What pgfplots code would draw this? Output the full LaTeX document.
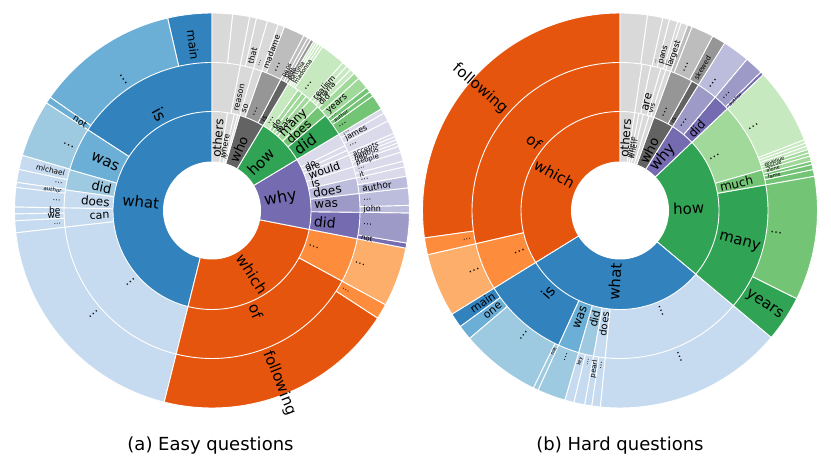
\documentclass[border=0pt]{standalone}
\usepackage{fontspec}
\setmainfont{DejaVu Sans}
\usepackage{pgfplots}
\pgfplotsset{compat=1.18}
\definecolor{b1}{HTML}{3182BD}\definecolor{b2}{HTML}{6BAED6}\definecolor{b3}{HTML}{9ECAE1}\definecolor{b4}{HTML}{C6DBEF}
\definecolor{o1}{HTML}{E6550D}\definecolor{o2}{HTML}{FD8D3C}\definecolor{o3}{HTML}{FDAE6B}\definecolor{o4}{HTML}{FDD0A2}
\definecolor{g1}{HTML}{31A354}\definecolor{g2}{HTML}{74C476}\definecolor{g3}{HTML}{A1D99B}\definecolor{g4}{HTML}{C7E9C0}
\definecolor{p1}{HTML}{756BB1}\definecolor{p2}{HTML}{9E9AC8}\definecolor{p3}{HTML}{BCBDDC}\definecolor{p4}{HTML}{DADAEB}
\definecolor{k1}{HTML}{636363}\definecolor{k2}{HTML}{969696}\definecolor{k3}{HTML}{BDBDBD}\definecolor{k4}{HTML}{D9D9D9}
% wedge: start angle, end angle, outer radius, colour (drawn as a slice, rings painted outer to inner)
\newcommand{\Wg}[4]{%
  \pgfmathtruncatemacro\ns{max(3,abs(#2-#1)/1.5+2)}%
  \addplot[fill=#4, draw=white, line width=0.9bp, domain=#1:#2, samples=\ns, variable=\t]
    ({#3*cos(\t)},{#3*sin(\t)}) -- (0,0) -- cycle;}
% labels: start angle, end angle, inner radius, size, text
\newcommand{\Ra}[5]{\path (0,0) ++({(#1+#2)/2}:#3bp) node[anchor=west, rotate={(#1+#2)/2}, inner sep=0pt, font=\fontsize{#4bp}{#4bp}\selectfont] {#5};}
\newcommand{\La}[5]{\path (0,0) ++({(#1+#2)/2}:#3bp) node[anchor=east, rotate={(#1+#2)/2-180}, inner sep=0pt, font=\fontsize{#4bp}{#4bp}\selectfont] {#5};}
\newcommand{\Hole}{\addplot[fill=white, draw=none, domain=0:360, samples=120, variable=\t] ({49*cos(\t)},{49*sin(\t)}) -- cycle;}
\pgfplotsset{sb/.style={anchor=south west, width=415.5bp, height=465bp, scale only axis, ymin=-254.5, ymax=210.5, hide axis, clip=false}}
\begin{document}
\begin{tikzpicture}
%================ (a) Easy questions ================
\begin{axis}[sb, at={(0,0)}, xmin=-212, xmax=203.5]
\path (-212,-254.5) rectangle (203.5,210.5);
% outer ring
\Wg{90}{103}{197.5}{b1}\Wg{103}{145}{197.5}{b2}\Wg{145}{147}{197.5}{b2}\Wg{147}{163.8}{197.5}{b3}
\Wg{163.8}{168}{197.5}{b4}\Wg{168}{171.8}{197.5}{b4}\Wg{171.8}{173.3}{197.5}{b4}\Wg{173.3}{179}{197.5}{b4}
\Wg{179}{181}{197.5}{b4}\Wg{181}{183}{197.5}{b4}\Wg{183}{186.5}{197.5}{b4}\Wg{186.5}{256}{197.5}{b4}
\Wg{-104}{-33}{197.5}{o1}\Wg{-33}{-28.5}{197.5}{o2}\Wg{-28.5}{-11}{197.5}{o3}
\Wg{-11}{-9.5}{197.5}{p1}\Wg{-9.5}{-0.7}{197.5}{p2}\Wg{-0.7}{1.5}{197.5}{p3}\Wg{1.5}{6.6}{197.5}{p3}
\Wg{6.6}{10}{197.5}{p3}\Wg{10}{12.8}{197.5}{p4}\Wg{12.8}{14.5}{197.5}{p4}\Wg{14.5}{17.2}{197.5}{p4}
\Wg{17.2}{19}{197.5}{p4}\Wg{19}{20}{197.5}{p4}\Wg{20}{21}{197.5}{p4}\Wg{21}{22}{197.5}{p4}
\Wg{22}{23}{197.5}{p4}\Wg{23}{27}{197.5}{p4}\Wg{27}{29.5}{197.5}{p4}\Wg{29.5}{31}{197.5}{p4}
\Wg{31}{35.5}{197.5}{g2}\Wg{35.5}{37}{197.5}{g2}\Wg{37}{38.5}{197.5}{g2}\Wg{38.5}{42}{197.5}{g3}
\Wg{42}{44}{197.5}{g3}\Wg{44}{45.5}{197.5}{g4}\Wg{45.5}{47}{197.5}{g4}\Wg{47}{48.5}{197.5}{g4}
\Wg{48.5}{56}{197.5}{g4}\Wg{56}{56.8}{197.5}{g4}\Wg{56.8}{57.6}{197.5}{g4}\Wg{57.6}{58.3}{197.5}{g4}\Wg{58.3}{59}{197.5}{g4}
\Wg{59}{60}{197.5}{k2}\Wg{60}{61}{197.5}{k3}\Wg{61}{62.3}{197.5}{k3}\Wg{62.3}{68.5}{197.5}{k3}
\Wg{68.5}{70.4}{197.5}{k4}\Wg{70.4}{73.7}{197.5}{k4}\Wg{73.7}{77}{197.5}{k4}\Wg{77}{79}{197.5}{k4}
\Wg{79}{84}{197.5}{k4}\Wg{84}{90}{197.5}{k4}
% middle ring
\Wg{90}{147}{148}{b1}\Wg{147}{164}{148}{b2}\Wg{164}{172}{148}{b3}\Wg{172}{179}{148}{b4}
\Wg{179}{186.5}{148}{b4}\Wg{186.5}{256}{148}{b4}
\Wg{-104}{-28.5}{148}{o1}\Wg{-28.5}{-11}{148}{o2}
\Wg{-11}{-0.7}{148}{p1}\Wg{-0.7}{6.6}{148}{p2}\Wg{6.6}{12.8}{148}{p3}\Wg{12.8}{17.2}{148}{p4}
\Wg{17.2}{22}{148}{p4}\Wg{22}{24}{148}{p4}\Wg{24}{26}{148}{p4}\Wg{26}{31}{148}{p4}
\Wg{31}{40}{148}{g1}\Wg{40}{44.5}{148}{g2}\Wg{44.5}{48.5}{148}{g3}\Wg{48.5}{50.5}{148}{g3}
\Wg{50.5}{52.5}{148}{g3}\Wg{52.5}{54.5}{148}{g3}\Wg{54.5}{59}{148}{g4}
\Wg{59}{62.3}{148}{k1}\Wg{62.3}{70.4}{148}{k2}\Wg{70.4}{73.7}{148}{k4}\Wg{73.7}{79}{148}{k4}\Wg{79}{90}{148}{k4}
% inner ring
\Wg{90}{256}{99}{b1}\Wg{-104}{-11}{99}{o1}\Wg{-11}{31}{99}{p1}\Wg{31}{59}{99}{g1}
\Wg{59}{73.7}{99}{k1}\Wg{73.7}{75}{99}{k4}\Wg{75}{77}{99}{k4}\Wg{77}{81}{99}{k4}\Wg{81}{90}{99}{k4}
\Hole
% labels inner
\La{90}{256}{53}{15}{what}\Ra{-104}{-11}{53}{15}{which}\Ra{-11}{31}{53}{16}{why}\Ra{31}{59}{53}{15}{how}
\Ra{59}{73.7}{53}{13}{who}\Ra{75}{77}{53}{5}{is}\Ra{77}{81}{53}{8}{where}\Ra{81}{90}{53}{12}{others}
% labels middle
\La{90}{147}{102.5}{16}{is}\La{147}{164}{102.5}{15}{was}\La{164}{172}{102.5}{13}{did}\La{172}{179}{102.5}{12}{does}
\La{179}{186.5}{102.5}{11}{can}\La{186.5}{256}{102.5}{12}{…}
\Ra{-104}{-28.5}{102.5}{15}{of}\Ra{-28.5}{-11}{102.5}{11}{…}
\Ra{-11}{-0.7}{102.5}{14}{did}\Ra{-0.7}{6.6}{102.5}{12}{was}\Ra{6.6}{12.8}{102.5}{12}{does}\Ra{12.8}{17.2}{102.5}{11}{is}
\Ra{17.2}{22}{102.5}{11}{would}\Ra{22}{24}{102.5}{9}{are}\Ra{24}{26}{102.5}{9}{do}
\Ra{31}{40}{102.5}{15}{did}\Ra{40}{44.5}{102.5}{12}{does}\Ra{44.5}{48.5}{102.5}{12}{many}\Ra{48.5}{50.5}{102.5}{9}{was}
\Ra{50.5}{52.5}{102.5}{8}{is}\Ra{52.5}{54.5}{102.5}{8}{do}\Ra{54.5}{59}{102.5}{9}{…}
\Ra{59}{62.3}{102.5}{7}{is}\Ra{62.3}{70.4}{102.5}{10}{…}\Ra{70.4}{73.7}{102.5}{8}{so}\Ra{73.7}{79}{102.5}{8}{reason}
% labels outer
\La{90}{103}{151.5}{12}{main}\La{103}{145}{151.5}{13}{…}\La{145}{147}{151.5}{9}{not}\La{147}{163.8}{151.5}{12}{…}
\La{163.8}{168}{151.5}{7.5}{michael}\La{168}{171.8}{151.5}{8}{…}\La{171.8}{173.3}{151.5}{5.5}{author}\La{173.3}{179}{151.5}{8}{…}
\La{179}{181}{151.5}{9}{be}\La{181}{183}{151.5}{9}{we}\La{183}{186.5}{151.5}{7}{…}\La{186.5}{256}{151.5}{12}{…}
\Ra{-104}{-33}{151.5}{15}{following}\Ra{-33}{-28.5}{151.5}{8}{…}\Ra{-28.5}{-11}{151.5}{11}{…}
\Ra{-11}{-9.5}{151.5}{7}{not}\Ra{-9.5}{-0.7}{151.5}{9}{…}\Ra{-0.7}{1.5}{151.5}{8}{john}\Ra{1.5}{6.6}{151.5}{8}{…}
\Ra{6.6}{10}{151.5}{9}{author}\Ra{10}{12.8}{151.5}{8}{…}\Ra{12.8}{14.5}{151.5}{7}{it}\Ra{14.5}{17.2}{151.5}{7}{…}
\Ra{17.2}{19}{151.5}{7}{people}\Ra{19}{20}{151.5}{7}{gap}\Ra{20}{21}{151.5}{7}{nimbus}\Ra{21}{22}{151.5}{7}{accepts}
\Ra{23}{27}{151.5}{8}{…}\Ra{27}{29.5}{151.5}{8}{james}\Ra{29.5}{31}{151.5}{7}{…}
\Ra{31}{35.5}{151.5}{9}{…}\Ra{35.5}{37}{151.5}{5}{author}\Ra{37}{38.5}{151.5}{6}{…}\Ra{38.5}{42}{151.5}{9}{years}
\Ra{44}{45.5}{151.5}{8}{did}\Ra{45.5}{47}{151.5}{8}{sharia}\Ra{47}{48.5}{151.5}{8}{realism}\Ra{48.5}{56}{151.5}{11}{…}
\Ra{56}{57.6}{151.5}{6}{madonna}\Ra{57.6}{59}{151.5}{6}{petunia}
\Ra{59}{60}{151.5}{6}{polo}\Ra{60}{61}{151.5}{6}{gap}\Ra{61}{62.3}{151.5}{6}{pens}\Ra{62.3}{68.5}{151.5}{11}{…}
\Ra{68.5}{70.4}{151.5}{8}{madame}\Ra{70.4}{73.7}{151.5}{7}{…}\Ra{73.7}{77}{151.5}{8}{that}
\node[anchor=base, font=\fontsize{18bp}{18bp}\selectfont] at (-1.5,-239.5) {(a) Easy questions};
\end{axis}
%================ (b) Hard questions ================
\begin{axis}[sb, at={(415.5bp,0)}, xmin=-204.5, xmax=211]
\path (-204.5,-254.5) rectangle (211,210.5);
% outer ring
\Wg{90}{188}{197.5}{o1}\Wg{188}{193}{197.5}{o2}\Wg{193}{211.7}{197.5}{o3}
\Wg{211.7}{216}{197.5}{b1}\Wg{216}{220.4}{197.5}{b2}\Wg{220.4}{244}{197.5}{b3}\Wg{244}{245.5}{197.5}{b3}
\Wg{245.5}{253.8}{197.5}{b3}\Wg{253.8}{256.5}{197.5}{b4}\Wg{256.5}{259.7}{197.5}{b4}\Wg{259.7}{261.8}{197.5}{b4}
\Wg{261.8}{264.3}{197.5}{b4}\Wg{264.3}{320}{197.5}{b4}
\Wg{-40}{-26.5}{197.5}{g1}\Wg{-26.5}{10}{197.5}{g2}\Wg{10}{12}{197.5}{g2}\Wg{12}{13.5}{197.5}{g2}
\Wg{13.5}{14.5}{197.5}{g2}\Wg{14.5}{16}{197.5}{g3}\Wg{16}{17}{197.5}{g3}\Wg{17}{18}{197.5}{g3}
\Wg{18}{19}{197.5}{g4}\Wg{19}{20}{197.5}{g4}\Wg{20}{21}{197.5}{g4}\Wg{21}{43.5}{197.5}{g4}
\Wg{43.5}{44.5}{197.5}{p1}\Wg{44.5}{50}{197.5}{p2}\Wg{50}{58}{197.5}{p3}
\Wg{58}{62}{197.5}{k2}\Wg{62}{68.6}{197.5}{k3}\Wg{68.6}{70}{197.5}{k3}\Wg{70}{72}{197.5}{k4}
\Wg{72}{73}{197.5}{k4}\Wg{73}{75.5}{197.5}{k4}\Wg{75.5}{77.5}{197.5}{k4}\Wg{77.5}{82}{197.5}{k4}\Wg{82}{90}{197.5}{k4}
% middle ring
\Wg{90}{193}{148}{o1}\Wg{193}{211.7}{148}{o2}
\Wg{211.7}{245.5}{148}{b1}\Wg{245.5}{253.8}{148}{b2}\Wg{253.8}{259.7}{148}{b3}\Wg{259.7}{264.3}{148}{b4}\Wg{264.3}{320}{148}{b4}
\Wg{-40}{10}{148}{g1}\Wg{10}{16}{148}{g2}\Wg{16}{43.5}{148}{g3}
\Wg{43.5}{50}{148}{p1}\Wg{50}{58}{148}{p2}
\Wg{58}{61}{148}{k1}\Wg{61}{70}{148}{k2}\Wg{70}{72}{148}{k4}\Wg{72}{74}{148}{k4}\Wg{74}{78}{148}{k4}
\Wg{78}{81.5}{148}{k4}\Wg{81.5}{90}{148}{k4}
% inner ring
\Wg{90}{211.7}{99}{o1}\Wg{211.7}{320}{99}{b1}\Wg{-40}{43.5}{99}{g1}\Wg{43.5}{58}{99}{p1}
\Wg{58}{70}{99}{k1}\Wg{70}{73}{99}{k4}\Wg{73}{76.5}{99}{k4}\Wg{76.5}{79}{99}{k4}\Wg{79}{81.5}{99}{k4}\Wg{81.5}{90}{99}{k4}
\Hole
% labels inner
\La{90}{211.7}{53}{15}{which}\La{211.7}{320}{53}{15}{what}\Ra{-40}{43.5}{53}{15}{how}\Ra{43.5}{58}{53}{15}{why}
\Ra{58}{70}{53}{13}{who}\Ra{76.5}{79}{53}{7}{when}\Ra{79}{81.5}{53}{7}{where}\Ra{81.5}{90}{53}{12}{others}
% labels middle
\La{90}{193}{102.5}{15}{of}\La{193}{211.7}{102.5}{12}{…}
\La{211.7}{245.5}{102.5}{15}{is}\La{245.5}{253.8}{102.5}{12}{was}\La{253.8}{259.7}{102.5}{11}{did}\La{259.7}{264.3}{102.5}{10}{does}
\Ra{264.3}{320}{102.5}{12}{…}
\Ra{-40}{10}{102.5}{15}{many}\Ra{10}{16}{102.5}{12}{much}\Ra{16}{43.5}{102.5}{12}{…}
\Ra{43.5}{50}{102.5}{12}{did}\Ra{50}{58}{102.5}{11}{…}
\Ra{58}{61}{102.5}{6}{is}\Ra{61}{70}{102.5}{11}{…}\Ra{72}{74}{102.5}{7}{vis}\Ra{74}{78}{102.5}{11}{are}
% labels outer
\La{90}{188}{151.5}{15}{following}\La{188}{193}{151.5}{8}{…}\La{193}{211.7}{151.5}{12}{…}
\La{211.7}{216}{151.5}{11}{main}\La{216}{220.4}{151.5}{11}{one}\La{220.4}{244}{151.5}{12}{…}\La{244}{245.5}{151.5}{5}{not}
\La{245.5}{253.8}{151.5}{9}{…}\La{253.8}{256.5}{151.5}{5}{key}\La{256.5}{259.7}{151.5}{7}{…}\La{259.7}{261.8}{151.5}{7}{pearl}
\La{261.8}{264.3}{151.5}{8}{…}\Ra{264.3}{320}{151.5}{12}{…}
\Ra{-40}{-26.5}{151.5}{15}{years}\Ra{-26.5}{10}{151.5}{12}{…}
\Ra{12}{13.5}{151.5}{5}{fame}\Ra{14.5}{16}{151.5}{5}{alone}\Ra{16}{17}{151.5}{5}{rescue}\Ra{17}{18}{151.5}{5}{revenue}
\Ra{21}{43.5}{151.5}{12}{…}
\Ra{43.5}{44.5}{151.5}{5}{author}\Ra{44.5}{50}{151.5}{10}{…}\Ra{50}{58}{151.5}{12}{…}
\Ra{58}{62}{151.5}{7}{skewed}\Ra{62}{68.6}{151.5}{11}{…}\Ra{70}{72}{151.5}{8}{largest}\Ra{72}{73}{151.5}{6}{…}
\Ra{73}{75.5}{151.5}{8}{pans}\Ra{75.5}{77.5}{151.5}{6}{..}
\node[anchor=base, font=\fontsize{18bp}{18bp}\selectfont] at (0,-239.5) {(b) Hard questions};
\end{axis}
\end{tikzpicture}
\end{document}
